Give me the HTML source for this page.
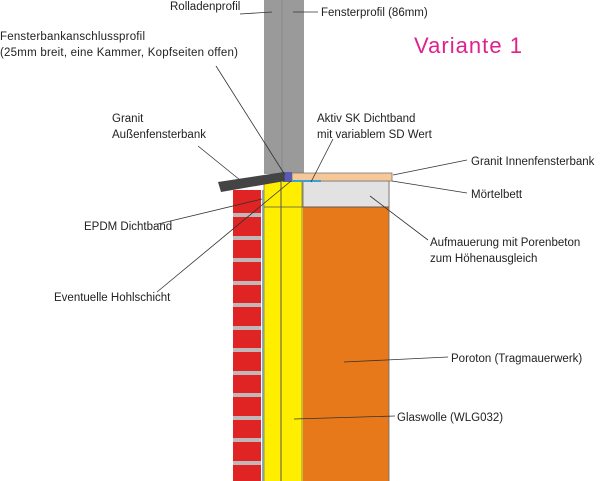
<!DOCTYPE html>
<html><head><style>
body{margin:0;background:#fff}
svg{display:block}
text{font-family:"Liberation Sans",Arial,sans-serif;font-size:11.5px;fill:#222}
</style></head><body>
<svg width="600" height="481" xmlns="http://www.w3.org/2000/svg">
<rect x="233" y="190" width="28" height="291" fill="#e02424"/>
<g fill="#c0b8b8">
<rect x="233" y="213" width="28" height="4"/><rect x="233" y="236" width="28" height="4"/>
<rect x="233" y="258" width="28" height="4"/><rect x="233" y="281" width="28" height="4"/>
<rect x="233" y="303" width="28" height="4"/><rect x="233" y="326" width="28" height="4"/>
<rect x="233" y="348" width="28" height="4"/><rect x="233" y="371" width="28" height="4"/>
<rect x="233" y="393" width="28" height="4"/><rect x="233" y="416" width="28" height="4"/>
<rect x="233" y="438" width="28" height="4"/><rect x="233" y="461" width="28" height="4"/>
</g>
<rect x="262" y="190" width="1.5" height="291" fill="#8ab"/>
<rect x="264" y="181" width="39" height="300" fill="#ffee00"/>
<line x1="281" y1="181" x2="281" y2="481" stroke="#555" stroke-width="1"/>
<line x1="264" y1="181" x2="264" y2="481" stroke="#777" stroke-width="0.8"/>
<line x1="302" y1="181" x2="302" y2="481" stroke="#777" stroke-width="0.8"/>
<rect x="303" y="207" width="86" height="274" fill="#e8791a"/>
<line x1="389" y1="181" x2="389" y2="481" stroke="#666" stroke-width="0.8"/>
<rect x="303" y="181" width="86" height="26" fill="#e2e2e2" stroke="#666" stroke-width="0.8"/>
<line x1="264" y1="207" x2="389" y2="207" stroke="#555" stroke-width="0.8"/>
<rect x="264" y="0" width="40" height="174" fill="#9a9a9a"/>
<line x1="282" y1="0" x2="282" y2="174" stroke="#888" stroke-width="1"/>
<rect x="292" y="173" width="100" height="8" fill="#f6c898" stroke="#777" stroke-width="0.8"/>
<rect x="291" y="180" width="30" height="2" fill="#3aa0d8"/>
<rect x="283" y="172" width="9" height="10" fill="#5a5ab0"/>
<polygon points="218,182 284,172 285,181 221,192" fill="#444"/>
<g stroke="#333" stroke-width="0.8" fill="none">
<line x1="240" y1="14" x2="272" y2="12"/>
<line x1="293" y1="12" x2="318" y2="12"/>
<line x1="216" y1="66" x2="285" y2="175"/>
<line x1="198" y1="146" x2="240" y2="180"/>
<line x1="333" y1="139" x2="311" y2="182"/>
<line x1="467" y1="160" x2="393" y2="175"/>
<line x1="467" y1="193" x2="392" y2="181"/>
<line x1="428" y1="240" x2="370" y2="196"/>
<line x1="158" y1="224" x2="262" y2="199"/>
<line x1="157" y1="292" x2="291" y2="181"/>
<line x1="448" y1="357" x2="344" y2="362"/>
<line x1="395" y1="416" x2="294" y2="419"/>
</g>
<text x="170" y="10">Rolladenprofil</text>
<text x="321" y="16">Fensterprofil (86mm)</text>
<text x="0" y="40" textLength="145">Fensterbankanschlussprofil</text>
<text x="0" y="56" textLength="238">(25mm breit, eine Kammer, Kopfseiten offen)</text>
<text x="414" y="53" style="font-size:22px;fill:#e0208c" textLength="108">Variante 1</text>
<text x="112" y="122">Granit</text>
<text x="112" y="138">Außenfensterbank</text>
<text x="317" y="122">Aktiv SK Dichtband</text>
<text x="317" y="138">mit variablem SD Wert</text>
<text x="471" y="165">Granit Innenfensterbank</text>
<text x="471" y="198">Mörtelbett</text>
<text x="430" y="246">Aufmauerung mit Porenbeton</text>
<text x="430" y="262">zum Höhenausgleich</text>
<text x="84" y="230">EPDM Dichtband</text>
<text x="54" y="301">Eventuelle Hohlschicht</text>
<text x="451" y="362">Poroton (Tragmauerwerk)</text>
<text x="397" y="421">Glaswolle (WLG032)</text>
</svg>
</body></html>
